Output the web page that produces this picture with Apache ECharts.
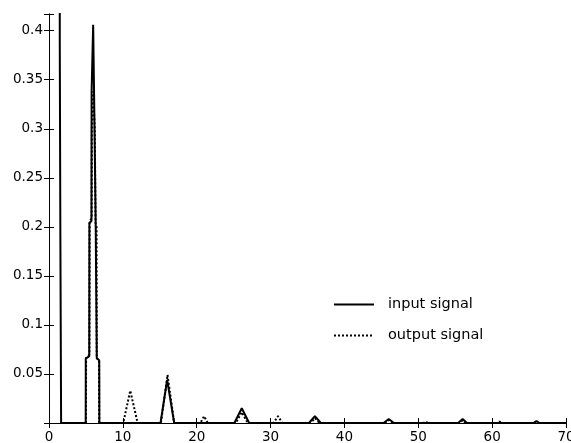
<!DOCTYPE html>
<html><head><meta charset="utf-8">
<script src="https://cdn.jsdelivr.net/npm/echarts@6/dist/echarts.min.js"></script>
<style>html,body{margin:0;padding:0;background:#fff}#c{width:571px;height:443px}</style>
</head><body><div id="c"></div>
<script>
// ---- data ----
const inputX = [1.45, 1.46, 1.53, 1.54, 1.62, 1.64,
  4.97, 4.98, 5.45, 5.47, 5.75, 5.77, 5.95, 5.98, 6.08, 6.10, 6.30, 6.32, 6.45, 6.47, 6.80, 6.82,
  15.1, 16.0, 16.95, 25.1, 26.1, 27.1, 35.2, 36.0, 36.8, 45.3, 46.0, 46.7,
  55.4, 56.0, 56.6, 65.6, 66.0, 66.4, 70];
const inputY = [0.60, 0.385, 0.384, 0.19, 0.188, 0,
  0, 0.066, 0.068, 0.204, 0.206, 0.338, 0.340, 0.406, 0.406, 0.338, 0.336, 0.204, 0.202, 0.066, 0.064, 0,
  0, 0.044, 0, 0, 0.015, 0, 0, 0.007, 0, 0, 0.004, 0,
  0, 0.004, 0, 0, 0.002, 0, 0];
const outputX = [5.0, 5.02, 5.47, 5.5, 5.78, 5.8, 5.97, 6.03, 6.2, 6.3, 6.44, 6.46, 6.78, 6.8,
  10.05, 11.0, 12.0, 15.15, 16.05, 16.95, 20.5, 21.0, 21.5, 25.3, 26.1, 26.9,
  30.4, 31.0, 31.6, 35.4, 36.0, 36.6, 45.5, 46.0, 46.5, 50.7, 51.0, 51.3,
  55.6, 56.0, 56.4, 60.7, 61.0, 61.3, 65.7, 66.0, 66.3, 70];
const outputY = [0, 0.066, 0.07, 0.204, 0.21, 0.3, 0.338, 0.338, 0.3, 0.204, 0.2, 0.066, 0.064, 0,
  0, 0.033, 0, 0, 0.049, 0, 0, 0.007, 0, 0, 0.011, 0,
  0, 0.007, 0, 0, 0.005, 0, 0, 0.003, 0, 0, 0.0015, 0,
  0, 0.003, 0, 0, 0.0015, 0, 0, 0.0015, 0, 0];
const seriesNames = ['input signal', 'output signal'];
const xMin = 0, xMax = 70, xStep = 10;
const yMin = 0, yMax = 0.417, yStep = 0.05;

const pairs = (xs, ys) => xs.map((x, i) => [x, ys[i]]);
const font = 'DejaVu Sans';
const isTick = v => Math.abs(v / yStep - Math.round(v / yStep)) < 1e-6;

const baseX = {
  type: 'value', min: xMin, max: xMax, interval: xStep,
  axisLine: { lineStyle: { color: '#000', width: 1 } },
  axisTick: { inside: true, length: 5, lineStyle: { color: '#000' } },
  splitLine: { show: false }
};
const baseY = {
  type: 'value', min: yMin, max: yMax, interval: yStep,
  axisLine: { show: true, lineStyle: { color: '#000', width: 1 } },
  axisTick: { show: true, inside: true, length: 5, lineStyle: { color: '#000' } },
  splitLine: { show: false }
};

const chart = echarts.init(document.getElementById('c'), null, { renderer: 'canvas' });
chart.setOption({
  animation: false,
  backgroundColor: '#fff',
  grid: { left: 49, right: 5, top: 14, bottom: 20, containLabel: false, outerBoundsMode: 'none' },
  xAxis: [
    Object.assign({}, baseX, { position: 'bottom',
      axisLabel: { show: true, margin: 7, color: '#000', fontFamily: font, fontSize: 13.5,
        hideOverlap: false } }),
    Object.assign({}, baseX, { position: 'top', axisLabel: { show: false } })
  ],
  yAxis: [
    Object.assign({}, baseY, { position: 'left',
      axisLabel: { show: true, margin: 6, color: '#000', fontFamily: font, fontSize: 13.5,
        formatter: v => (v > 0 && isTick(v)) ? String(+v.toFixed(2)) : '' } }),
    Object.assign({}, baseY, { position: 'right', axisLabel: { show: false } })
  ],
  legend: {
    orient: 'vertical', left: 328, top: 292, itemWidth: 40, itemHeight: 14, itemGap: 16,
    data: seriesNames,
    itemStyle: { color: 'transparent', borderWidth: 0, opacity: 0 },
    textStyle: { color: '#000', fontFamily: font, fontSize: 14.5, padding: [0, 0, 0, 9] }
  },
  series: [
    { name: seriesNames[1], type: 'line', data: pairs(outputX, outputY), xAxisIndex: 0, yAxisIndex: 0,
      symbol: 'none', showSymbol: false, clip: true, z: 2,
      lineStyle: { color: '#000', width: 2, type: 'dotted' }, itemStyle: { color: '#000' } },
    { name: seriesNames[0], type: 'line', data: pairs(inputX, inputY), xAxisIndex: 0, yAxisIndex: 0,
      symbol: 'none', showSymbol: false, clip: true, z: 3,
      lineStyle: { color: '#000', width: 2, type: 'solid' }, itemStyle: { color: '#000' } }
  ]
});
</script></body></html>
